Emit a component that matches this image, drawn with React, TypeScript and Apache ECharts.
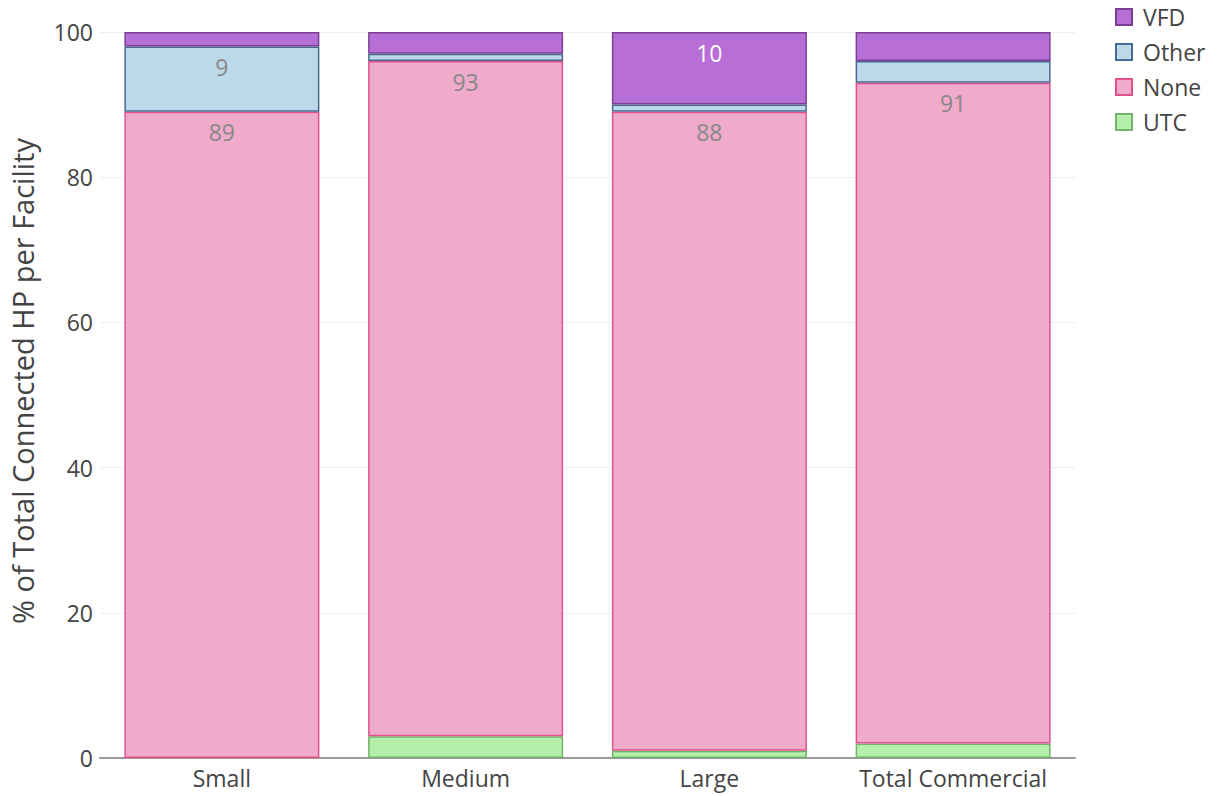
import React, { useEffect, useRef } from "react";
import * as echarts from "echarts";

const categories = ["Small", "Medium", "Large", "Total Commercial"];
const utcValues = [0, 3, 1, 2];
const noneValues = [89, 93, 88, 91];
const otherValues = [9, 1, 1, 3];
const vfdValues = [2, 3, 10, 4];
const yTicks = [0, 20, 40, 60, 80, 100];

const FONT = "'Open Sans', 'Noto Sans', sans-serif";

export default function App() {
  const ref = useRef<HTMLDivElement>(null);
  useEffect(() => {
    if (!ref.current) return;
    const chart = echarts.init(ref.current, undefined, { renderer: "svg" });
    const mk = (
      name: string,
      data: number[],
      fill: string,
      border: string,
      labelColor: string
    ) => ({
      name,
      type: "bar",
      stack: "total",
      barCategoryGap: "20%",
      data: data.map((v) =>
        v === 0
          ? { value: v, label: { show: false }, itemStyle: { borderWidth: 0, opacity: 0 } }
          : { value: v, label: { show: v >= 5 } }
      ),
      itemStyle: { color: fill, borderColor: border, borderWidth: 1.5 },
      label: {
        position: "insideTop",
        distance: 9,
        color: labelColor,
        fontFamily: FONT,
        fontSize: 23,
        formatter: (p: any) => String(Math.round(p.value)),
      },
      emphasis: { disabled: true },
    });
    chart.setOption({
      animation: false,
      textStyle: { fontFamily: FONT },
      grid: {
        left: 100,
        right: 142,
        top: 32,
        bottom: 38,
        containLabel: false,
        outerBoundsMode: "none",
      },
      legend: {
        orient: "vertical",
        left: 1110,
        top: 0,
        itemWidth: 16,
        itemHeight: 16,
        itemGap: 11,
        icon: "rect",
        data: ["VFD", "Other", "None", "UTC"],
        textStyle: {
          fontSize: 23,
          lineHeight: 24,
          color: "#444",
          fontFamily: FONT,
          padding: [0, 0, 0, 6],
        },
      },
      xAxis: {
        type: "category",
        data: categories,
        axisLine: { lineStyle: { color: "#999", width: 2 } },
        axisTick: { show: false },
        axisLabel: {
          interval: 0,
          hideOverlap: false,
          fontSize: 23,
          color: "#444",
          margin: 8,
          fontFamily: FONT,
        },
      },
      yAxis: {
        type: "value",
        min: yTicks[0],
        max: yTicks[yTicks.length - 1],
        interval: 20,
        name: "% of Total Connected HP per Facility",
        nameLocation: "middle",
        nameGap: 63,
        nameTextStyle: {
          fontSize: 29,
          color: "#444",
          fontFamily: FONT,
          padding: [0, 0, 0, 28],
        },
        axisLine: { show: false },
        axisTick: { show: false },
        axisLabel: { fontSize: 23, color: "#444", margin: 7, fontFamily: FONT },
        splitLine: { lineStyle: { color: "#eee", width: 1 } },
      },
      series: [
        mk("UTC", utcValues, "#b5efab", "#72b26a", "#888"),
        mk("None", noneValues, "#f0aacb", "#e0528e", "#888"),
        mk("Other", otherValues, "#bcd9ea", "#4b6891", "#888"),
        mk("VFD", vfdValues, "#b76ed6", "#7a3f93", "#fff"),
      ],
    });
    return () => chart.dispose();
  }, []);
  return (
    <div
      ref={ref}
      style={{ position: "fixed", left: 0, top: 0, width: 1217, height: 796, background: "#fff" }}
    />
  );
}
